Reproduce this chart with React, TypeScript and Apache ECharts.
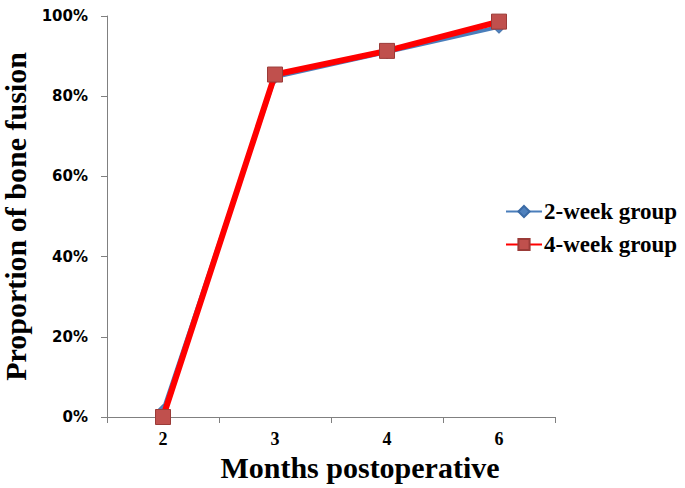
import React, { useEffect, useRef } from "react";
import * as echarts from "echarts";

const categories = ["2", "3", "4", "6"];
const twoWeek = [1.5, 84.8, 91, 97.3];
const fourWeek = [0, 85.4, 91.3, 98.6];
const yTicks = [0, 20, 40, 60, 80, 100];

export default function App() {
  const ref = useRef<HTMLDivElement>(null);
  useEffect(() => {
    if (!ref.current) return;
    const chart = echarts.init(ref.current, null, { renderer: "svg" });
    const serif = "'Liberation Serif', 'Times New Roman', serif";
    chart.setOption({
      animation: false,
      backgroundColor: "#ffffff",
      grid: { left: 107, top: 16, right: 130, bottom: 71, outerBoundsMode: "none", containLabel: false },
      legend: {
        orient: "vertical",
        left: 505,
        top: 200,
        padding: 0,
        itemGap: 10,
        itemWidth: 36,
        itemHeight: 14,
        textStyle: { fontFamily: serif, fontWeight: "bold", fontSize: 23, color: "#000", padding: [0, 0, 0, -3] },
        data: ["2-week group", "4-week group"],
      },
      xAxis: {
        type: "category",
        data: categories,
        boundaryGap: true,
        name: "Months postoperative",
        nameLocation: "middle",
        nameGap: 32,
        nameTextStyle: {
          fontFamily: serif,
          fontWeight: "bold",
          fontSize: 30,
          color: "#000",
          padding: [0, 0, 0, 58],
        },
        axisLine: { lineStyle: { color: "#808080", width: 1 } },
        axisTick: { show: true, length: 6, lineStyle: { color: "#808080" } },
        axisLabel: { fontFamily: serif, fontWeight: "bold", fontSize: 18, color: "#000", margin: 13 },
        splitLine: { show: false },
      },
      yAxis: {
        type: "value",
        min: 0,
        max: 100,
        interval: 20,
        name: "Proportion of bone fusion",
        nameLocation: "middle",
        nameGap: 65,
        nameTextStyle: { fontFamily: serif, fontWeight: "bold", fontSize: 30, color: "#000" },
        axisLine: { show: true, lineStyle: { color: "#808080", width: 1 } },
        axisTick: { show: true, length: 6, lineStyle: { color: "#808080" } },
        axisLabel: {
          fontFamily: "'DejaVu Sans', Verdana, sans-serif",
          fontWeight: "bold",
          fontSize: 15,
          color: "#000",
          margin: 19,
          formatter: (v: number) => (yTicks.includes(v) ? v + "%" : ""),
        },
        splitLine: { show: false },
      },
      series: [
        {
          name: "2-week group",
          type: "line",
          data: twoWeek,
          symbol: "diamond",
          symbolSize: 13,
          lineStyle: { color: "#4A7EBB", width: 4 },
          itemStyle: { color: "#4F81BD", borderColor: "#3A6AA5", borderWidth: 1 },
          z: 2,
        },
        {
          name: "4-week group",
          type: "line",
          data: fourWeek,
          symbol: "rect",
          symbolSize: 15,
          lineStyle: { color: "#FF0000", width: 6 },
          itemStyle: { color: "#C0504D", borderColor: "#9B3B38", borderWidth: 1 },
          z: 3,
        },
      ],
    });
    return () => chart.dispose();
  }, []);
  return <div ref={ref} style={{ width: 685, height: 488, position: "absolute", left: 0, top: 0 }} />;
}
